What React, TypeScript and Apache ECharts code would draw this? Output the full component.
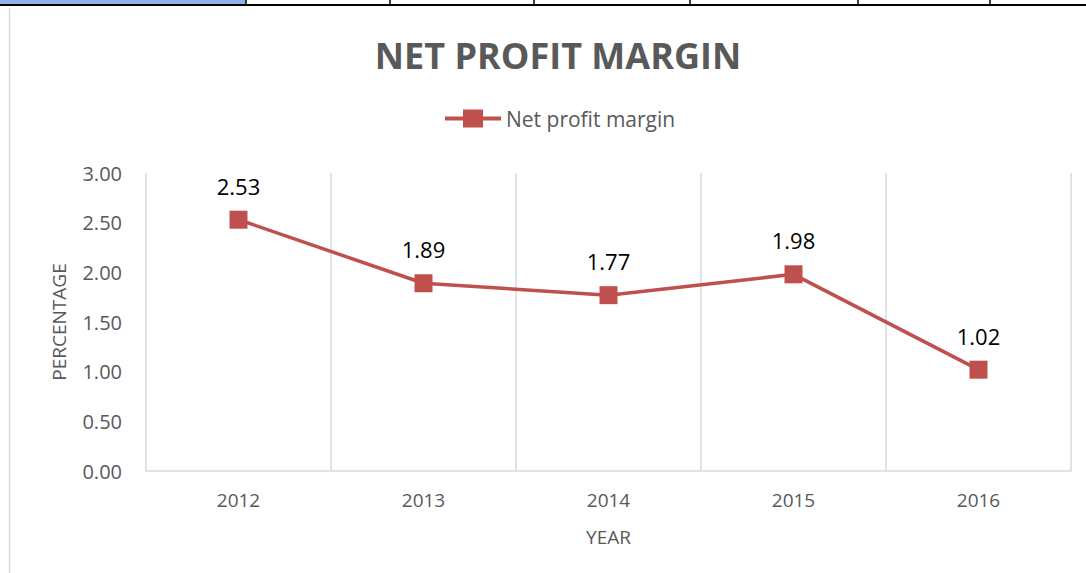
import React, { useEffect, useRef } from "react";
import * as echarts from "echarts";

const years = ["2012", "2013", "2014", "2015", "2016"];
const margins = [2.53, 1.89, 1.77, 1.98, 1.02];
const yTicks = [0, 0.5, 1, 1.5, 2, 2.5, 3];
const headerCells = [246, 390, 534, 690, 858, 990];

const RED = "#C0504D";
const GRAY = "#595959";
const FONT = "'Open Sans', 'Liberation Sans', sans-serif";

export default function App() {
  const ref = useRef<HTMLDivElement>(null);
  useEffect(() => {
    if (!ref.current) return;
    const chart = echarts.init(ref.current, null, { renderer: "svg" });
    const graphics: any[] = [
      { type: "rect", shape: { x: 0, y: 0, width: 246, height: 5 }, style: { fill: "#8DB4E2" }, silent: true },
      { type: "line", shape: { x1: 0, y1: 5, x2: 1086, y2: 5 }, style: { stroke: "#000", lineWidth: 2 }, silent: true },
      { type: "line", shape: { x1: 9.5, y1: 8, x2: 9.5, y2: 573 }, style: { stroke: "#D9D9D9", lineWidth: 1.5 }, silent: true },
      ...headerCells.map((x) => ({
        type: "line",
        shape: { x1: x, y1: 0, x2: x, y2: 5 },
        style: { stroke: "#000", lineWidth: 1.5 },
        silent: true,
      })),
    ];
    chart.setOption({
      animation: false,
      backgroundColor: "#fff",
      title: {
        text: "NET PROFIT MARGIN",
        left: 553,
        textAlign: "center",
        top: 32,
        textStyle: { fontFamily: FONT, fontWeight: "bold", fontSize: 36, color: GRAY },
      },
      legend: {
        top: 103,
        left: 440,
        itemWidth: 56,
        itemHeight: 18,
        itemGap: 4,
        icon: "path://M0,7 L18,7 L18,0 L38,0 L38,7 L56,7 L56,11 L38,11 L38,18 L18,18 L18,11 L0,11 Z",
        textStyle: { fontFamily: FONT, fontSize: 21, color: GRAY },
        data: ["Net profit margin"],
      },
      grid: { left: 146, right: 15, top: 173, bottom: 102 },
      graphic: graphics,
      xAxis: {
        type: "category",
        data: years,
        boundaryGap: true,
        name: "YEAR",
        nameLocation: "middle",
        nameGap: 56,
        nameTextStyle: { fontFamily: FONT, fontSize: 19, color: GRAY },
        axisLine: { show: true, lineStyle: { color: "#D9D9D9", width: 1.5 } },
        axisTick: { show: false },
        axisLabel: { fontFamily: FONT, fontSize: 19, color: GRAY, margin: 19 },
        splitLine: { show: true, lineStyle: { color: "#D9D9D9", width: 1.5 } },
      },
      yAxis: {
        type: "value",
        min: yTicks[0],
        max: yTicks[yTicks.length - 1],
        interval: 0.5,
        name: "PERCENTAGE",
        nameLocation: "middle",
        nameGap: 78,
        nameTextStyle: { fontFamily: FONT, fontSize: 19, color: GRAY },
        axisLine: { show: false },
        axisTick: { show: false },
        splitLine: { show: false },
        axisLabel: {
          fontFamily: FONT,
          fontSize: 20,
          color: GRAY,
          margin: 24,
          formatter: (v: number) => v.toFixed(2),
        },
      },
      series: [
        {
          name: "Net profit margin",
          type: "line",
          data: margins,
          symbol: "rect",
          symbolSize: 18,
          itemStyle: { color: RED },
          lineStyle: { color: RED, width: 3.5 },
          label: {
            show: true,
            position: "top",
            distance: 14,
            fontFamily: FONT,
            fontSize: 22,
            color: "#000",
            formatter: (p: any) => p.value.toFixed(2),
          },
        },
      ],
    });
    return () => chart.dispose();
  }, []);
  return (
    <div
      ref={ref}
      style={{ position: "absolute", left: 0, top: 0, width: 1086, height: 573 }}
    />
  );
}
